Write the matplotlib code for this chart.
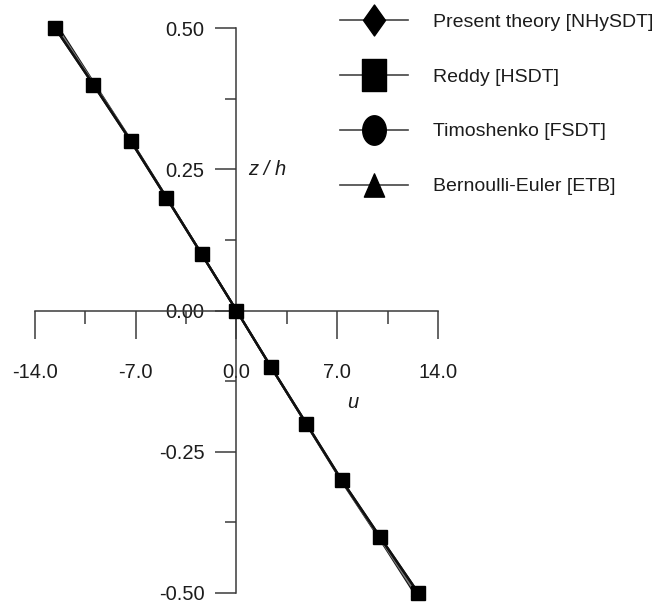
import matplotlib
matplotlib.use("Agg")
import matplotlib.pyplot as plt
from matplotlib.path import Path
from matplotlib.lines import Line2D
from matplotlib.ticker import MultipleLocator, FixedLocator
import numpy as np

# ---- data ----
z = [0.5, 0.4, 0.3, 0.2, 0.1, 0.0, -0.1, -0.2, -0.3, -0.4, -0.5]
u_nhysdt = [-12.60, -9.95, -7.35, -4.88, -2.43, 0.0, 2.40, 4.85, 7.30, 9.95, 12.63]
u_hsdt = [-12.60, -9.95, -7.35, -4.88, -2.43, 0.0, 2.40, 4.85, 7.30, 9.95, 12.63]
u_fsdt = [-12.45, -9.88, -7.32, -4.86, -2.42, 0.0, 2.39, 4.83, 7.27, 9.88, 12.45]
u_etb = [-12.35, -9.84, -7.30, -4.85, -2.42, 0.0, 2.39, 4.82, 7.25, 9.84, 12.35]
labels = ["Present theory [NHySDT]", "Reddy [HSDT]", "Timoshenko [FSDT]", "Bernoulli-Euler [ETB]"]
xticks_major = [-14.0, -7.0, 0.0, 7.0, 14.0]
xtick_labels = ["-14.0", "-7.0", "0.0", "7.0", "14.0"]
yticks_major = [0.50, 0.25, 0.0, -0.25, -0.50]
ytick_labels = ["0.50", "0.25", "0.00", "-0.25", "-0.50"]

plt.rcParams["font.family"] = ["Liberation Sans", "DejaVu Sans"]
fs = 14.5
lfs = 14
tc = "#1c1c1c"

W, H = 659, 607
fig = plt.figure(figsize=(W / 100, H / 100), dpi=100)
ax = fig.add_axes([35 / W, (H - 593) / H, 403 / W, 565 / H])
ax.set_xlim(-14, 14)
ax.set_ylim(-0.5, 0.5)

for s in ["top", "right"]:
    ax.spines[s].set_visible(False)
ax.spines["left"].set_position(("data", 0))
ax.spines["bottom"].set_position(("data", 0))
axc = "#3a3a3a"
for s in ["left", "bottom"]:
    ax.spines[s].set_color(axc)
    ax.spines[s].set_linewidth(1.1)

ax.xaxis.set_major_locator(FixedLocator(xticks_major))
ax.xaxis.set_minor_locator(MultipleLocator(3.5))
ax.set_xticklabels(xtick_labels)
ax.yaxis.set_major_locator(FixedLocator(yticks_major))
ax.yaxis.set_minor_locator(MultipleLocator(0.125))
ax.set_yticklabels(ytick_labels)
ax.tick_params(axis="x", which="major", direction="out", length=20, width=1.1, color=axc, pad=18, labelsize=fs, labelcolor=tc)
ax.tick_params(axis="x", which="minor", direction="out", length=9.5, width=1.1, color=axc)
ax.tick_params(axis="y", which="major", direction="out", length=15, width=1.1, color=axc, pad=8, labelsize=fs, labelcolor=tc)
ax.tick_params(axis="y", which="minor", direction="out", length=8, width=1.1, color=axc)

# series
ax.plot(u_etb, z, color="#111", lw=1.5, marker="^", ms=5, clip_on=False, zorder=3)
ax.plot(u_fsdt, z, color="#777", lw=1.5, marker="o", ms=5, clip_on=False, zorder=3)
ax.plot(u_nhysdt, z, color="#111", lw=1.7, marker="D", ms=6, clip_on=False, zorder=4)
ax.plot(u_hsdt, z, color="#111", lw=1.7, marker="s", ms=10.5, mfc="black", mec="black", clip_on=False, zorder=5)

ax.text(0.8, 0.25, "z / h", style="italic", fontsize=fs, ha="left", va="center", color=tc)
ax.text(8.1, -0.163, "u", style="italic", fontsize=fs, ha="center", va="center", color=tc)

# tall legend markers
wr = 22 / 31.0
diamond = Path([(0, 0.5), (0.5 * wr, 0), (0, -0.5), (-0.5 * wr, 0), (0, 0.5)], closed=True)
wr2 = 24 / 32.0
square = Path([(-0.5 * wr2, -0.5), (0.5 * wr2, -0.5), (0.5 * wr2, 0.5), (-0.5 * wr2, 0.5), (-0.5 * wr2, -0.5)], closed=True)
t = np.linspace(0, 2 * np.pi, 60)
ell = Path(np.column_stack([0.5 * 0.8 * np.cos(t), 0.5 * np.sin(t)]), closed=True)
tri = Path([(-0.5 * 0.87, -0.5), (0.5 * 0.87, -0.5), (0, 0.5), (-0.5 * 0.87, -0.5)], closed=True)
msz = 31 / 1.389
handles = [
    Line2D([], [], color="#444", lw=1.2, marker=diamond, ms=msz, mfc="black", mec="black"),
    Line2D([], [], color="#444", lw=1.2, marker=square, ms=msz * 1.03, mfc="black", mec="black"),
    Line2D([], [], color="#444", lw=1.2, marker=ell, ms=msz * 0.95, mfc="black", mec="black"),
    Line2D([], [], color="#444", lw=1.2, marker=tri, ms=msz * 0.75, mfc="black", mec="black"),
]
fig.legend(handles, labels, loc="upper left", bbox_to_anchor=(340 / W, 1 - 13 / H),
           frameon=False, fontsize=lfs, handlelength=3.5, handletextpad=1.29,
           labelspacing=1.92, borderpad=0, borderaxespad=0, labelcolor=tc)

fig.savefig("out.png", dpi=100)
